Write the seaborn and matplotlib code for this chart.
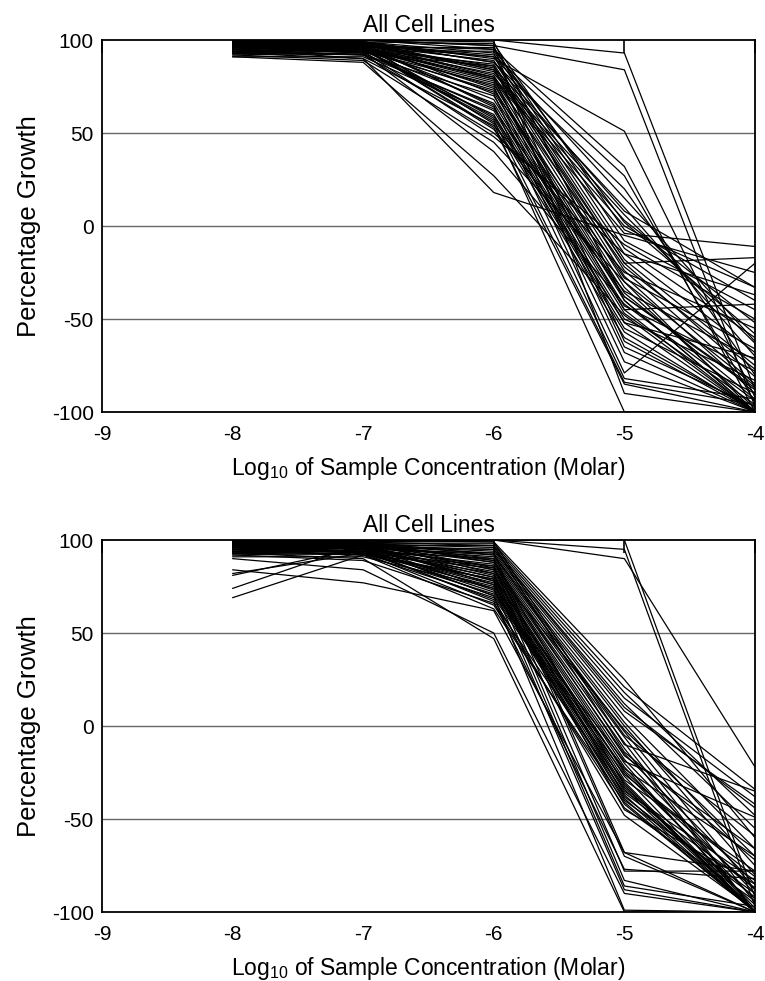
import numpy as np
import pandas as pd
import matplotlib
matplotlib.use('Agg')
import matplotlib.pyplot as plt
import seaborn as sns

# log10 molar concentrations tested
conc = [-8, -7, -6, -5, -4]

# percentage growth per cell line, upper panel
growth_top = [
    [100, 100, 100, 93, -88],
    [99, 100, 97, 84, -97],
    [98, 99, 90, 51, -92],
    [100, 100, 95, 32, -100],
    [97, 98, 92, 27, -95],
    [96, 99, 88, 20, -80],
    [99, 97, 85, 10, -70],
    [95, 98, 83, 6, -63],
    [98, 96, 82, 3, -52],
    [94, 95, 80, 0, -40],
    [97, 97, 79, -4, -11],
    [100, 99, 98, -2, -33],
    [93, 96, 96, -8, -45],
    [96, 94, 94, -12, -60],
    [99, 98, 91, -15, -68],
    [95, 97, 89, -18, -75],
    [98, 95, 87, -20, -17],
    [92, 93, 86, -24, -85],
    [97, 99, 84, -27, -90],
    [100, 98, 81, -30, -100],
    [96, 96, 78, -33, -98],
    [94, 94, 76, -36, -93],
    [99, 97, 74, -38, -88],
    [97, 95, 72, -40, -100],
    [95, 92, 70, -43, -78],
    [98, 96, 68, -45, -100],
    [93, 94, 66, -47, -96],
    [100, 98, 64, -50, -83],
    [96, 93, 62, -52, -100],
    [91, 91, 60, -55, -90],
    [97, 97, 58, -57, -100],
    [99, 95, 56, -60, -99],
    [95, 90, 54, -25, -55],
    [98, 96, 52, -35, -72],
    [94, 92, 50, -15, -37],
    [97, 94, 48, -10, -50],
    [92, 89, 45, -30, -86],
    [96, 93, 40, -42, -94],
    [91, 88, 27, -48, -100],
    [93, 90, 18, -5, -25],
    [99, 100, 99, -40, -100],
    [100, 99, 93, -62, -100],
    [98, 97, 86, -65, -97],
    [96, 98, 80, -68, -100],
    [97, 96, 75, -73, -100],
    [99, 99, 71, -79, -20],
    [95, 97, 65, -82, -93],
    [98, 95, 57, -84, -96],
    [94, 96, 53, -85, -100],
    [100, 100, 97, -90, -100],
    [97, 98, 55, -100, -100],
    [96, 97, 91, 15, -62],
    [99, 99, 88, 8, -33],
    [98, 96, 79, -22, -77],
    [95, 94, 73, -28, -66],
    [97, 95, 77, -45, -42],
    [100, 98, 84, -20, -81],
    [93, 92, 63, -38, -87],
    [96, 95, 59, -52, -71],
    [98, 97, 95, 2, -58],
]

# percentage growth per cell line, lower panel
growth_bottom = [
    [100, 100, 100, 95, -97],
    [99, 100, 100, 90, -22],
    [98, 99, 100, 100, -92],
    [97, 99, 99, 25, -60],
    [96, 98, 98, 21, -34],
    [99, 97, 97, 18, -48],
    [95, 98, 96, 15, -38],
    [98, 96, 95, 12, -55],
    [94, 97, 94, 8, -42],
    [97, 95, 93, 5, -66],
    [100, 99, 92, 2, -75],
    [93, 96, 91, 0, -80],
    [96, 94, 90, -3, -88],
    [99, 98, 89, -6, -95],
    [95, 97, 88, -9, -100],
    [98, 95, 87, -12, -100],
    [92, 93, 86, -15, -85],
    [97, 99, 85, -18, -90],
    [100, 98, 84, -20, -100],
    [96, 96, 83, -22, -98],
    [94, 94, 82, -25, -93],
    [99, 97, 81, -27, -100],
    [97, 95, 80, -29, -78],
    [95, 92, 79, -31, -100],
    [98, 96, 78, -33, -96],
    [93, 94, 77, -35, -83],
    [100, 98, 76, -37, -100],
    [96, 93, 75, -39, -100],
    [91, 91, 74, -40, -90],
    [97, 97, 73, -42, -100],
    [99, 95, 72, -19, -49],
    [95, 93, 71, -23, -70],
    [98, 96, 70, -26, -81],
    [94, 92, 69, -30, -100],
    [97, 94, 68, -48, -99],
    [92, 89, 66, -36, -87],
    [96, 93, 65, -44, -94],
    [84, 77, 62, -68, -78],
    [93, 90, 47, -100, -100],
    [90, 84, 50, -90, -100],
    [99, 100, 99, -10, -35],
    [100, 99, 97, -14, -72],
    [98, 97, 93, -68, -100],
    [96, 98, 90, -70, -100],
    [97, 96, 86, -78, -78],
    [99, 99, 82, -83, -100],
    [95, 97, 78, -86, -97],
    [98, 95, 74, -88, -100],
    [94, 96, 70, -99, -100],
    [81, 96, 92, -5, -59],
    [74, 98, 89, -32, -100],
    [69, 92, 85, -38, -92],
    [82, 93, 79, -45, -85],
    [96, 97, 95, 10, -44],
    [99, 99, 88, -16, -66],
    [98, 96, 80, -24, -88],
    [95, 94, 76, -34, -100],
    [97, 95, 67, -77, -82],
    [100, 98, 84, -2, -70],
    [93, 92, 63, -41, -100],
]

font = ['Liberation Sans', 'DejaVu Sans']


def to_long(rows):
    recs = []
    for i, row in enumerate(rows):
        for c, g in zip(conc, row):
            recs.append({'line': i, 'logc': c, 'growth': g})
    return pd.DataFrame(recs)


def draw_panel(ax, rows):
    df = to_long(rows)
    for y in [50, 0, -50]:
        ax.axhline(y, color='0.4', lw=1.0, zorder=1)
    sns.lineplot(data=df, x='logc', y='growth', units='line', estimator=None,
                 color='black', lw=0.9, ax=ax, legend=False, zorder=2)
    ax.set_xlim(-9, -4)
    ax.set_ylim(-100, 100)
    ax.set_xticks([-9, -8, -7, -6, -5, -4])
    ax.set_xticklabels(['-9', '-8', '-7', '-6', '-5', '-4'], fontsize=15)
    ax.set_yticks([-100, -50, 0, 50, 100])
    ax.set_yticklabels(['-100', '-50', '0', '50', '100'], fontsize=15)
    ax.set_yticks([-75, -25, 25, 75], minor=True)
    ax.tick_params(axis='x', direction='in', length=9, width=1.2, top=True, pad=9,
                   colors='black')
    ax.tick_params(axis='y', which='major', direction='in', length=7, width=1.2, pad=6,
                   colors='black')
    ax.tick_params(axis='y', which='minor', direction='in', length=7, width=1.2,
                   colors='black')
    for s in ax.spines.values():
        s.set_linewidth(1.3)
        s.set_color('black')
    ax.set_title('All Cell Lines', fontsize=16.5, pad=6, color='black')
    ax.set_xlabel('Log$_{10}$ of Sample Concentration (Molar)', fontsize=16.5,
                  labelpad=8, color='black')
    ax.set_ylabel('Percentage Growth', fontsize=18.5, labelpad=8, color='black')
    ax.grid(False)


sns.set_style('white')
plt.rcParams['font.family'] = font
plt.rcParams['mathtext.fontset'] = 'custom'
plt.rcParams['mathtext.rm'] = 'Liberation Sans'
fig = plt.figure(figsize=(7.65, 9.81), dpi=100)
ax1 = fig.add_axes([0.1333, 0.580, 0.8536, 0.3792])
ax2 = fig.add_axes([0.1333, 0.0703, 0.8536, 0.3792])
draw_panel(ax1, growth_top)
draw_panel(ax2, growth_bottom)
fig.savefig('out.png', dpi=100)
